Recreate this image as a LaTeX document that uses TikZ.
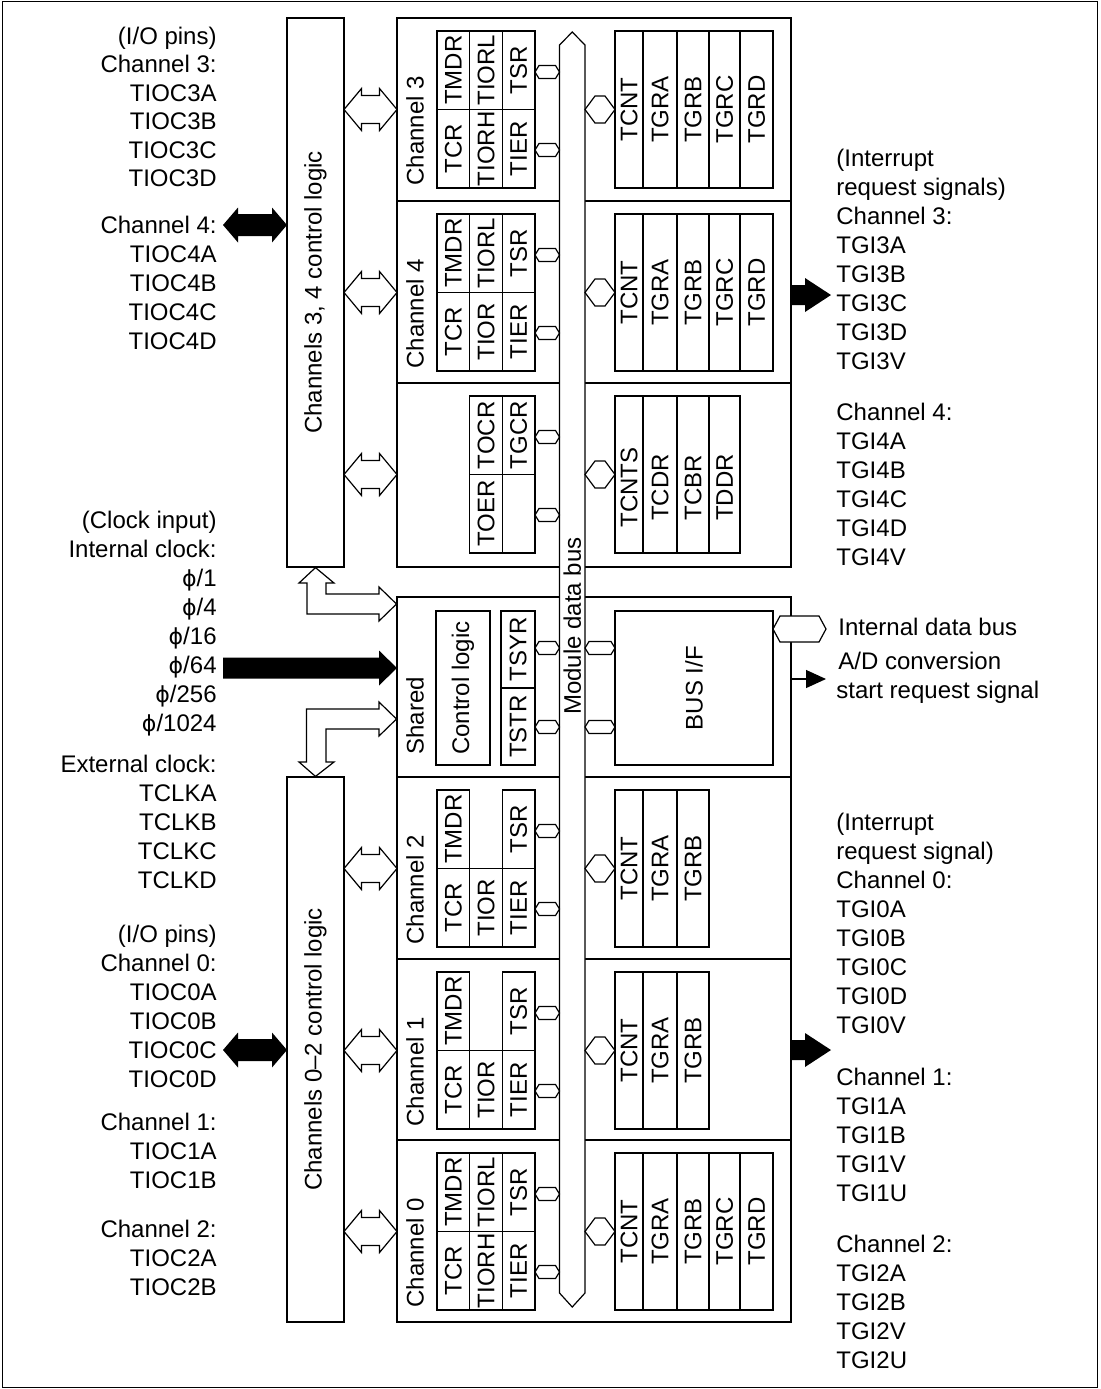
\documentclass[tikz,border=0pt]{standalone}
\usepackage{fontspec}
\setmainfont{Liberation Sans}
\newfontfamily\phifont[Scale=0.92]{DejaVu Sans}
\usepackage{graphicx}
\usetikzlibrary{positioning, calc, arrows.meta}

\newcommand{\ph}{{\phifont ϕ}}

\tikzset{
  box/.style    = {draw, line width=0.6pt, inner sep=0pt},
  cell/.style   = {box, minimum width=16.33pt, minimum height=39.25pt},
  reg/.style    = {box, minimum height=78.5pt},
  chlbl/.style  = {inner sep=0pt, anchor=south},
  lbl/.style    = {inner sep=0pt, anchor=east, text height=8.6pt, text depth=0pt},
  rlbl/.style   = {lbl, anchor=west},
  hollow/.style = {draw, line width=0.6pt, fill=white},
  pics/hexa/.style n args = {3}{code={
    \draw[hollow] (0,0) -- (#3,-#2) -- (#1-#3,-#2) -- (#1,0)
      -- (#1-#3,#2) -- (#3,#2) -- cycle;}},
  pics/dbl/.style = {code={
    \draw[hollow] (0,0) -- (17.5,-21) -- (17.5,-14) -- (35.5,-14) -- (35.5,-21)
      -- (53,0) -- (35.5,21) -- (35.5,14) -- (17.5,14) -- (17.5,21) -- cycle;}},
  pics/bigdbl/.style = {code={
    \fill (0,0) -- (15,-17.5) -- (15,-11) -- (49,-11) -- (49,-17.5)
      -- (64,0) -- (49,17.5) -- (49,11) -- (15,11) -- (15,17.5) -- cycle;}},
  pics/bigout/.style = {code={
    \fill (0,-10) -- (13,-10) -- (13,-17) -- (39,0) -- (13,17) -- (13,10)
      -- (0,10) -- cycle;}},
}

\begin{document}
\begin{tikzpicture}[x=0.5pt, y=-0.5pt, font=\fontsize{12}{14}\selectfont]
  \useasboundingbox (0,0) rectangle (1100,1389);
  \draw[line width=0.6pt] (2.5,1.5) rectangle (1097.5,1387.5);

  % control logic boxes
  \node[box, minimum width=28.5pt, minimum height=274.5pt] (ctl34) at (315.5,292.5)
    {\rotatebox{90}{Channels 3, 4 control logic}};
  \node[box, minimum width=28.5pt, minimum height=272.5pt] (ctl02) at (315.5,1049.5)
    {\rotatebox{90}{Channels 0–2 control logic}};

  % timer blocks and rows
  \node[box, minimum width=197pt, minimum height=274.5pt] (upper) at (594,292.5) {};
  \node[box, minimum width=197pt, minimum height=362.5pt] (lower) at (594,959.5) {};
  \foreach \y in {201,383,777,959,1140}
    \draw[line width=0.6pt] (397,\y) -- (791,\y);

  % module data bus
  \draw[hollow] (559.5,45) -- (572.25,32) -- (585,45) -- (585,1293)
    -- (572.25,1307) -- (559.5,1293) -- cycle;
  \node[inner sep=0pt] (mbus) at (572.25,626) {\rotatebox{90}{Module data bus}};

  % channel register grids
  \foreach \n/\ry/\ta/\tb/\tc/\ba/\bb/\bc in {
      3/18/TMDR/TIORL/TSR/TCR/TIORH/TIER,
      4/201/TMDR/TIORL/TSR/TCR/TIOR/TIER,
      2/777/TMDR//TSR/TCR/TIOR/TIER,
      1/959/TMDR//TSR/TCR/TIOR/TIER,
      0/1140/TMDR/TIORL/TSR/TCR/TIORH/TIER} {
    \node[chlbl] (lab\n) at (415,\ry+168) {\rotatebox{90}{Channel \n}};
    \node[cell] (ta\n) at (453.3,\ry+52.25) {\rotatebox{90}{\ta}};
    \ifx\tb\empty\else
      \node[cell] (tb\n) at (486,\ry+52.25) {\rotatebox{90}{\tb}};
    \fi
    \node[cell] (tc\n) at (518.7,\ry+52.25) {\rotatebox{90}{\tc}};
    \node[cell] (ba\n) at (453.3,\ry+130.75) {\rotatebox{90}{\ba}};
    \node[cell] (bb\n) at (486,\ry+130.75) {\rotatebox{90}{\bb}};
    \node[cell] (bc\n) at (518.7,\ry+130.75) {\rotatebox{90}{\bc}};
    \pic at (344,\ry+91.5) {dbl};
    \pic at (535,\ry+54) {hexa={24.5}{6.5}{4}};
    \pic at (535,\ry+132) {hexa={24.5}{6.5}{4}};
    \pic at (585,\ry+91.5) {hexa={30}{13.5}{10}};
  }

  % counter registers
  \foreach \n/\ry/\regs in {
      3/18/{TCNT,TGRA,TGRB,TGRC,TGRD},
      4/201/{TCNT,TGRA,TGRB,TGRC,TGRD},
      2/777/{TCNT,TGRA,TGRB},
      1/959/{TCNT,TGRA,TGRB},
      0/1140/{TCNT,TGRA,TGRB,TGRC,TGRD}}
    \foreach \t [count=\i] in \regs {
      \pgfmathsetmacro\xa{{615,643,677,709,740,773}[\i-1]}
      \pgfmathsetmacro\xb{{615,643,677,709,740,773}[\i]}
      \node[reg, minimum width={(\xb-\xa)*0.5pt}] (\t\n) at ({(\xa+\xb)/2},\ry+91.5)
        {\rotatebox{90}{\t}};
    }

  % TOCR section
  \node[cell] (TOCR) at (486,435.25) {\rotatebox{90}{TOCR}};
  \node[cell] (TGCR) at (518.7,435.25) {\rotatebox{90}{TGCR}};
  \node[cell] (TOER) at (486,513.75) {\rotatebox{90}{TOER}};
  \node[cell] (blank) at (518.7,513.75) {};
  \foreach \t [count=\i] in {TCNTS,TCDR,TCBR,TDDR} {
    \pgfmathsetmacro\xa{{615,643,677,709,740}[\i-1]}
    \pgfmathsetmacro\xb{{615,643,677,709,740}[\i]}
    \node[reg, minimum width={(\xb-\xa)*0.5pt}] (\t) at ({(\xa+\xb)/2},474.5)
      {\rotatebox{90}{\t\hspace{13pt}}};
  }
  \pic at (344,474.5) {dbl};
  \pic at (535,437) {hexa={24.5}{6.5}{4}};
  \pic at (535,515) {hexa={24.5}{6.5}{4}};
  \pic at (585,474.5) {hexa={30}{13.5}{10}};

  % shared section
  \node[chlbl] (labS) at (415,755) {\rotatebox{90}{Shared}};
  \node[box, minimum width=27pt, minimum height=77pt] (shctl) at (463,688)
    {\rotatebox{90}{Control logic}};
  \node[box, minimum width=17pt, minimum height=38.5pt] (TSYR) at (518,649.5)
    {\rotatebox{90}{TSYR}};
  \node[box, minimum width=17pt, minimum height=38.5pt] (TSTR) at (518,726.5)
    {\rotatebox{90}{TSTR}};
  \node[box, minimum width=79pt, minimum height=77pt] (busif) at (694,688)
    {\rotatebox{90}{BUS I/F}};
  \pic at (535,648) {hexa={24.5}{6.5}{4}};
  \pic at (535,727) {hexa={24.5}{6.5}{4}};
  \pic at (585,648) {hexa={30}{6.5}{4}};
  \pic at (585,727) {hexa={30}{6.5}{4}};
  \pic at (773,629) {hexa={53}{13}{7}};
  \coordinate (adreq) at (826,679);
  \draw[line width=0.6pt, -{Triangle[length=10pt, width=9pt]}] (lower.east |- adreq) -- (adreq);

  % links to the shared section
  \draw[hollow] (ctl34.south) -- (334,583) -- (326,583) -- (326,594) -- (379,594)
    -- (379,587) -- (396.5,604) -- (379,621) -- (379,614) -- (307,614)
    -- (307,583) -- (299,583) -- cycle;
  \draw[hollow] (ctl02.north) -- (299,762) -- (306.5,762) -- (306.5,709) -- (379,709)
    -- (379,702) -- (396.5,719) -- (379,736) -- (379,729) -- (326,729)
    -- (326,762) -- (334,762) -- cycle;
  \fill (223,657.5) -- (379,657.5) -- (379,650.5) -- (397,668) -- (379,685.5)
    -- (379,678.5) -- (223,678.5) -- cycle;

  % pin and interrupt arrows
  \pic at (223,225) {bigdbl};
  \pic at (223,1050) {bigdbl};
  \pic at (792,295) {bigout};
  \pic at (792,1050) {bigout};

  % left texts
  \foreach \y/\t [count=\i] in {36/{(I/O pins)}, 64/Channel 3:, 93/TIOC3A, 121/TIOC3B,
      150/TIOC3C, 178/TIOC3D, 225/Channel 4:, 254/TIOC4A, 283/TIOC4B, 312/TIOC4C,
      341/TIOC4D, 520/{(Clock input)}, 549/Internal clock:, 578/{\ph/1}, 607/{\ph/4},
      636/{\ph/16}, 665/{\ph/64}, 694/{\ph/256}, 723/{\ph/1024}, 764/External clock:,
      793/TCLKA, 822/TCLKB, 851/TCLKC, 880/TCLKD, 934/{(I/O pins)}, 963/Channel 0:,
      992/TIOC0A, 1021/TIOC0B, 1050/TIOC0C, 1079/TIOC0D, 1122/Channel 1:,
      1151/TIOC1A, 1180/TIOC1B, 1229/Channel 2:, 1258/TIOC2A, 1287/TIOC2B}
    \node[lbl] (inL\i) at (217,\y) {\t};

  % right texts
  \foreach \y/\t [count=\i] in {158/{(Interrupt}, 187/{request signals)}, 216/Channel 3:,
      245/TGI3A, 274/TGI3B, 303/TGI3C, 332/TGI3D, 361/TGI3V, 412/Channel 4:,
      441/TGI4A, 470/TGI4B, 499/TGI4C, 528/TGI4D, 557/TGI4V,
      822/{(Interrupt}, 851/{request signal)}, 880/Channel 0:, 909/TGI0A, 938/TGI0B,
      967/TGI0C, 996/TGI0D, 1025/TGI0V, 1077/Channel 1:, 1106/TGI1A, 1135/TGI1B,
      1164/TGI1V, 1193/TGI1U, 1244/Channel 2:, 1273/TGI2A, 1302/TGI2B, 1331/TGI2V,
      1360/TGI2U}
    \node[rlbl] (outR\i) at (836,\y) {\t};
  \node[rlbl] (idb) at (838,627) {Internal data bus};
  \node[rlbl] (adc) at (838,661) {A/D conversion};
  \node[rlbl] (adr) at (836,690) {start request signal};
\end{tikzpicture}
\end{document}
